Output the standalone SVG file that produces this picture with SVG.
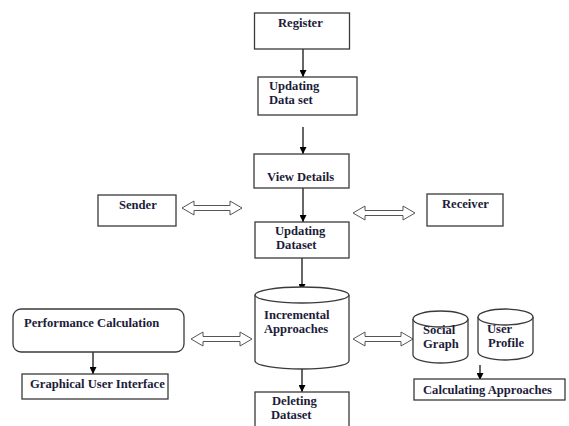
<svg xmlns="http://www.w3.org/2000/svg" width="569" height="426" viewBox="0 0 569 426">
<defs>
<style>
.box{fill:#fff;stroke:#3a3a3a;stroke-width:1.3}
.t{font-family:"Liberation Serif","Times New Roman",serif;font-weight:bold;font-size:12.6px;fill:#1c1c3a}
.line{stroke:#000;stroke-width:1.2;fill:none}
.dbl{fill:#fff;stroke:#555;stroke-width:1}
</style>
<marker id="ah" viewBox="0 0 8 8" refX="8" refY="4" markerWidth="7" markerHeight="7" markerUnits="userSpaceOnUse" orient="auto">
<path d="M0,0 L8,4 L0,8 Z" fill="#000"/>
</marker>
</defs>
<rect width="569" height="426" fill="#fff"/>
<g id="connectors">
<line class="line" x1="303" y1="49" x2="303" y2="77" marker-end="url(#ah)"/>
<line class="line" x1="303" y1="127" x2="303" y2="154" marker-end="url(#ah)"/>
<line class="line" x1="303" y1="188" x2="303" y2="222" marker-end="url(#ah)"/>
<line class="line" x1="302" y1="258" x2="302" y2="291" marker-end="url(#ah)"/>
<line class="line" x1="302" y1="369" x2="302" y2="392" marker-end="url(#ah)"/>
<line class="line" x1="93" y1="352" x2="93" y2="374" marker-end="url(#ah)"/>
<line class="line" x1="480" y1="365" x2="480" y2="380" marker-end="url(#ah)"/>
<path class="dbl" d="M182,208 L194,201 L194,205.5 L230,205.5 L230,201 L242,208 L230,215 L230,210.5 L194,210.5 L194,215 Z"/>
<path class="dbl" d="M353,213 L365,206 L365,210.5 L403,210.5 L403,206 L415,213 L403,220 L403,215.5 L365,215.5 L365,220 Z"/>
<path class="dbl" d="M191,339 L203,332 L203,336.5 L240,336.5 L240,332 L252,339 L240,346 L240,341.5 L203,341.5 L203,346 Z"/>
<path class="dbl" d="M353,339 L365,332 L365,336.5 L401,336.5 L401,332 L413,339 L401,346 L401,341.5 L365,341.5 L365,346 Z"/>
</g>
<g id="register">
<rect class="box" x="254.5" y="13" width="95" height="36"/>
<text class="t" x="278" y="27">Register</text>
</g>
<g id="updating-data-set">
<rect class="box" x="258" y="77" width="99" height="38"/>
<text class="t" x="269" y="90">Updating</text>
<text class="t" x="269" y="104">Data set</text>
</g>
<g id="view-details">
<rect class="box" x="254" y="154" width="95" height="34"/>
<text class="t" x="267" y="181">View Details</text>
</g>
<g id="sender">
<rect class="box" x="98" y="195" width="78" height="31"/>
<text class="t" x="119" y="209">Sender</text>
</g>
<g id="receiver">
<rect class="box" x="427" y="194" width="76" height="32"/>
<text class="t" x="442" y="208">Receiver</text>
</g>
<g id="updating-dataset">
<rect class="box" x="255" y="222" width="94" height="36"/>
<text class="t" x="275" y="235">Updating</text>
<text class="t" x="276" y="249">Dataset</text>
</g>
<g id="incremental-approaches">
<path class="box" d="M255,295 A47,8 0 0 1 349,295 L349,361 A47,8 0 0 1 255,361 Z"/>
<path class="box" d="M255,295 A47,8 0 0 0 349,295" fill="none"/>
<text class="t" x="264" y="319">Incremental</text>
<text class="t" x="264" y="333">Approaches</text>
</g>
<g id="deleting-dataset">
<rect class="box" x="255" y="392" width="94" height="40"/>
<text class="t" x="272" y="405">Deleting</text>
<text class="t" x="271" y="419">Dataset</text>
</g>
<g id="performance-calculation">
<rect class="box" x="13" y="309" width="171" height="43" rx="8" ry="8"/>
<text class="t" x="24" y="327">Performance Calculation</text>
</g>
<g id="graphical-user-interface">
<rect class="box" x="22" y="374" width="146" height="25"/>
<text class="t" x="30" y="388">Graphical User Interface</text>
</g>
<g id="social-graph">
<path class="box" d="M413,319 A27.5,8 0 0 1 468,319 L468,355 A27.5,8 0 0 1 413,355 Z"/>
<path class="box" d="M413,319 A27.5,8 0 0 0 468,319" fill="none"/>
<text class="t" x="423" y="334">Social</text>
<text class="t" x="423" y="348">Graph</text>
</g>
<g id="user-profile">
<path class="box" d="M478,317 A27.5,8 0 0 1 533,317 L533,352 A27.5,8 0 0 1 478,352 Z"/>
<path class="box" d="M478,317 A27.5,8 0 0 0 533,317" fill="none"/>
<text class="t" x="487" y="333">User</text>
<text class="t" x="488" y="347">Profile</text>
</g>
<g id="calculating-approaches">
<rect class="box" x="414" y="379" width="151" height="21"/>
<text class="t" x="423" y="394">Calculating Approaches</text>
</g>
</svg>
